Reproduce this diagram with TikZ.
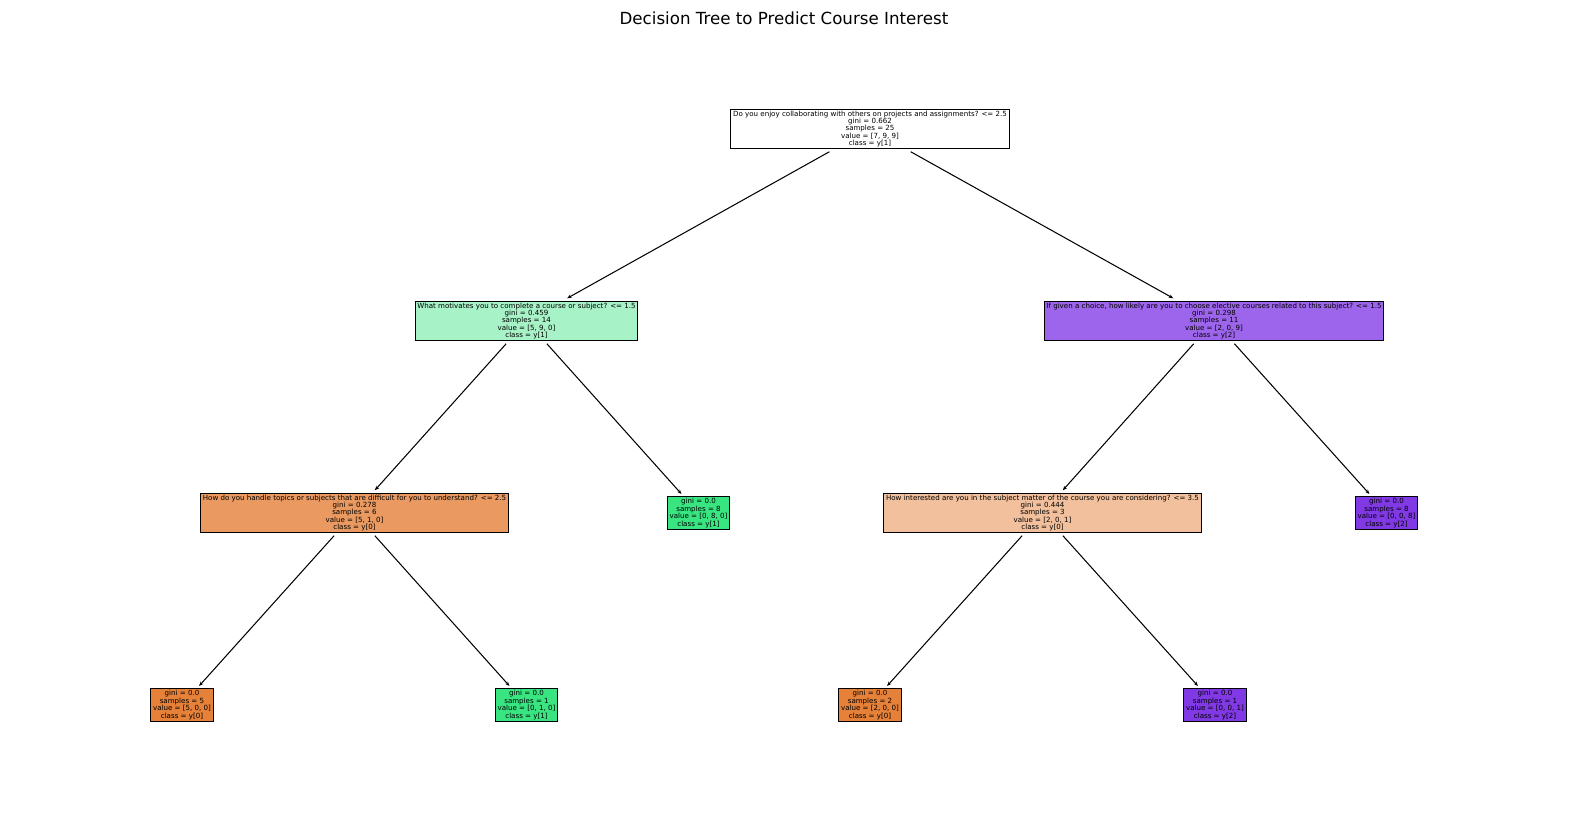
\documentclass[tikz,border=0pt]{standalone}
\usepackage{fontspec}
\setmainfont{DejaVu Sans}
\usetikzlibrary{arrows.meta}
\definecolor{cOrange}{RGB}{229,129,57}
\definecolor{cGreen}{RGB}{57,229,129}
\definecolor{cPurple}{RGB}{129,57,229}
\definecolor{cGreenL}{RGB}{167,243,199}
\definecolor{cPurpleL}{RGB}{157,101,235}
\definecolor{cOrangeM}{RGB}{234,154,97}
\definecolor{cOrangeL}{RGB}{242,192,156}
\begin{document}
\begin{tikzpicture}[x=0.72pt,y=-0.72pt,
	box/.style={draw,line width=0.75pt,align=center,inner xsep=1.6pt,inner ysep=1.3pt,outer sep=2pt,
		font=\fontsize{5.1}{5.3}\selectfont},
	edge/.style={line width=0.75pt,-{Stealth[length=3.2pt,width=2.6pt]}}]
	\useasboundingbox (0,0) rectangle (1570,812);
	\node[font=\fontsize{12}{14}\selectfont] (title) at (784,18) {Decision Tree to Predict Course Interest};
	% root
	\node[box,fill=white] (root) at (870,129) {Do you enjoy collaborating with others on projects and assignments? <= 2.5\\gini = 0.662\\samples = 25\\value = [7, 9, 9]\\class = y[1]};
	% level 1
	\node[box,fill=cGreenL] (motiv) at (526.5,321) {What motivates you to complete a course or subject? <= 1.5\\gini = 0.459\\samples = 14\\value = [5, 9, 0]\\class = y[1]};
	\node[box,fill=cPurpleL] (elect) at (1214,321) {If given a choice, how likely are you to choose elective courses related to this subject? <= 1.5\\gini = 0.298\\samples = 11\\value = [2, 0, 9]\\class = y[2]};
	% level 2
	\node[box,fill=cOrangeM] (handle) at (354.5,513) {How do you handle topics or subjects that are difficult for you to understand? <= 2.5\\gini = 0.278\\samples = 6\\value = [5, 1, 0]\\class = y[0]};
	\node[box,fill=cGreen] (leafB) at (698.5,513) {gini = 0.0\\samples = 8\\value = [0, 8, 0]\\class = y[1]};
	\node[box,fill=cOrangeL] (interest) at (1042.5,513) {How interested are you in the subject matter of the course you are considering? <= 3.5\\gini = 0.444\\samples = 3\\value = [2, 0, 1]\\class = y[0]};
	\node[box,fill=cPurple] (leafE) at (1386.5,513) {gini = 0.0\\samples = 8\\value = [0, 0, 8]\\class = y[2]};
	% level 3
	\node[box,fill=cOrange] (leafA) at (182,705) {gini = 0.0\\samples = 5\\value = [5, 0, 0]\\class = y[0]};
	\node[box,fill=cGreen] (leafC) at (526.5,705) {gini = 0.0\\samples = 1\\value = [0, 1, 0]\\class = y[1]};
	\node[box,fill=cOrange] (leafD) at (870,705) {gini = 0.0\\samples = 2\\value = [2, 0, 0]\\class = y[0]};
	\node[box,fill=cPurple] (leafF) at (1215,705) {gini = 0.0\\samples = 1\\value = [0, 0, 1]\\class = y[2]};
	% edges
	\draw[edge] (root) -- (motiv);
	\draw[edge] (root) -- (elect);
	\draw[edge] (motiv) -- (handle);
	\draw[edge] (motiv) -- (leafB);
	\draw[edge] (handle) -- (leafA);
	\draw[edge] (handle) -- (leafC);
	\draw[edge] (elect) -- (interest);
	\draw[edge] (elect) -- (leafE);
	\draw[edge] (interest) -- (leafD);
	\draw[edge] (interest) -- (leafF);
\end{tikzpicture}
\end{document}
